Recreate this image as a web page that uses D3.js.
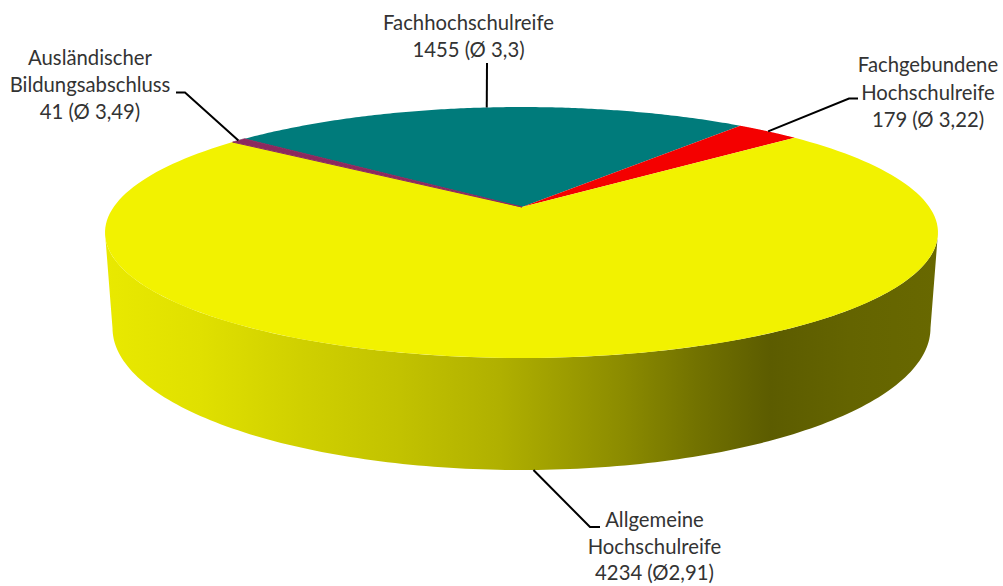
<!DOCTYPE html>
<html><head><meta charset="utf-8">
<script src="https://cdn.jsdelivr.net/npm/d3@7"></script>
<style>html,body{margin:0;background:#fff}svg{display:block}text{font-family:Lato,sans-serif;font-size:20.3px;fill:#333;text-anchor:middle}</style>
</head><body><svg id="c" width="1003" height="586"></svg>
<script>
const categories = ["Fachhochschulreife","Fachgebundene Hochschulreife","Allgemeine Hochschulreife","Ausländischer Bildungsabschluss"];
const counts = [1455,179,4234,41];
const colors = ["#007b7b","#f40000","#f2f200","#8b2a5e"];
const labelLines = [
  ["Fachhochschulreife","1455 (Ø 3,3)"],
  ["Fachgebundene","Hochschulreife","179 (Ø 3,22)"],
  ["Allgemeine","Hochschulreife","4234 (Ø2,91)"],
  ["Ausländischer","Bildungsabschluss","41 (Ø 3,49)"]];
const labelX = [468.5,928,654.5,90];
const labelY = [30,72,527,65];
const lineGap = [27,27.5,26.5,27];
const elbows = [[[487,63]],[[858,98.5],[849,98.5]],[[600,527],[590,527]],[[176,92.5],[185,92.5]]];
const wallStops = [[105,"#e9e900"],[200,"#e0e000"],[300,"#d0d000"],[400,"#c2c200"],[500,"#b0b000"],[620,"#8c8c00"],[700,"#717100"],[770,"#5c5c00"],[850,"#646400"],[938,"#686800"]];

const svg = d3.select("#c");
const rad = d3.scaleLinear().domain([0,360]).range([0,2*Math.PI]);
const pie = d3.pie().sort(null).startAngle(rad(-50.2)).endAngle(rad(309.8));
const arcs = pie(counts);

// perspective view of the round top face
const P = {x0:522,y0:207,a:407.8,b:120.3,k:0.2032};
const C = {x:521.5};
const top_ = t => { const u=Math.sin(t), v=Math.cos(t), w=1+P.k*v; return [C.x+P.a*u/w, P.y0-P.b*v/w]; };
const B = {x0:521.5,y0:328,rx:409,ry:142};
const bottom = t => [B.x0+B.rx*Math.sin(t), B.y0-B.ry*Math.cos(t)];
const line = d3.line();
const span = (a,b,f,n=160) => d3.range(n+1).map(i=>f(a+(b-a)*i/n));

// wall gradient
const defs = svg.append("defs");
const g = defs.append("linearGradient").attr("id","wall").attr("gradientUnits","userSpaceOnUse").attr("x1",105).attr("x2",938).attr("y1",0).attr("y2",0);
const off = d3.scaleLinear().domain([105,938]).range([0,1]);
g.selectAll("stop").data(wallStops).join("stop").attr("offset",d=>off(d[0])).attr("stop-color",d=>d[1]);

// wall: lower half, from the right silhouette of the top face round to the left one
const tipR = Math.PI - Math.acos(P.k);
const tL = 2*Math.PI - tipR;
const wallPts = span(tipR,tL,top_).concat(span(Math.PI*1.5,Math.PI/2,bottom));
svg.append("path").attr("d",line(wallPts)+"Z").attr("fill","url(#wall)");

// top slices
svg.selectAll("path.s").data(arcs).join("path").attr("class","s")
  .attr("d",d=>line([[P.x0,P.y0]].concat(span(d.startAngle,d.endAngle,top_)))+"Z")
  .attr("fill",(d,i)=>colors[i])
  .attr("stroke",(d,i)=>i===3?colors[i]:"none")
  .attr("stroke-width",1);

// leaders
arcs.forEach((d,i)=>{
  const m=(d.startAngle+d.endAngle)/2;
  const anchor=i===2?bottom(m):top_(m);
  svg.append("path").attr("d",line(elbows[i].concat([anchor]))).attr("fill","none").attr("stroke","#000").attr("stroke-width",2);
});

// labels
labelLines.forEach((ls,i)=>{
  const t=svg.append("text");
  ls.forEach((s,j)=>t.append("tspan").attr("x",labelX[i]).attr("y",labelY[i]+j*lineGap[i]).text(s));
});
</script></body></html>
